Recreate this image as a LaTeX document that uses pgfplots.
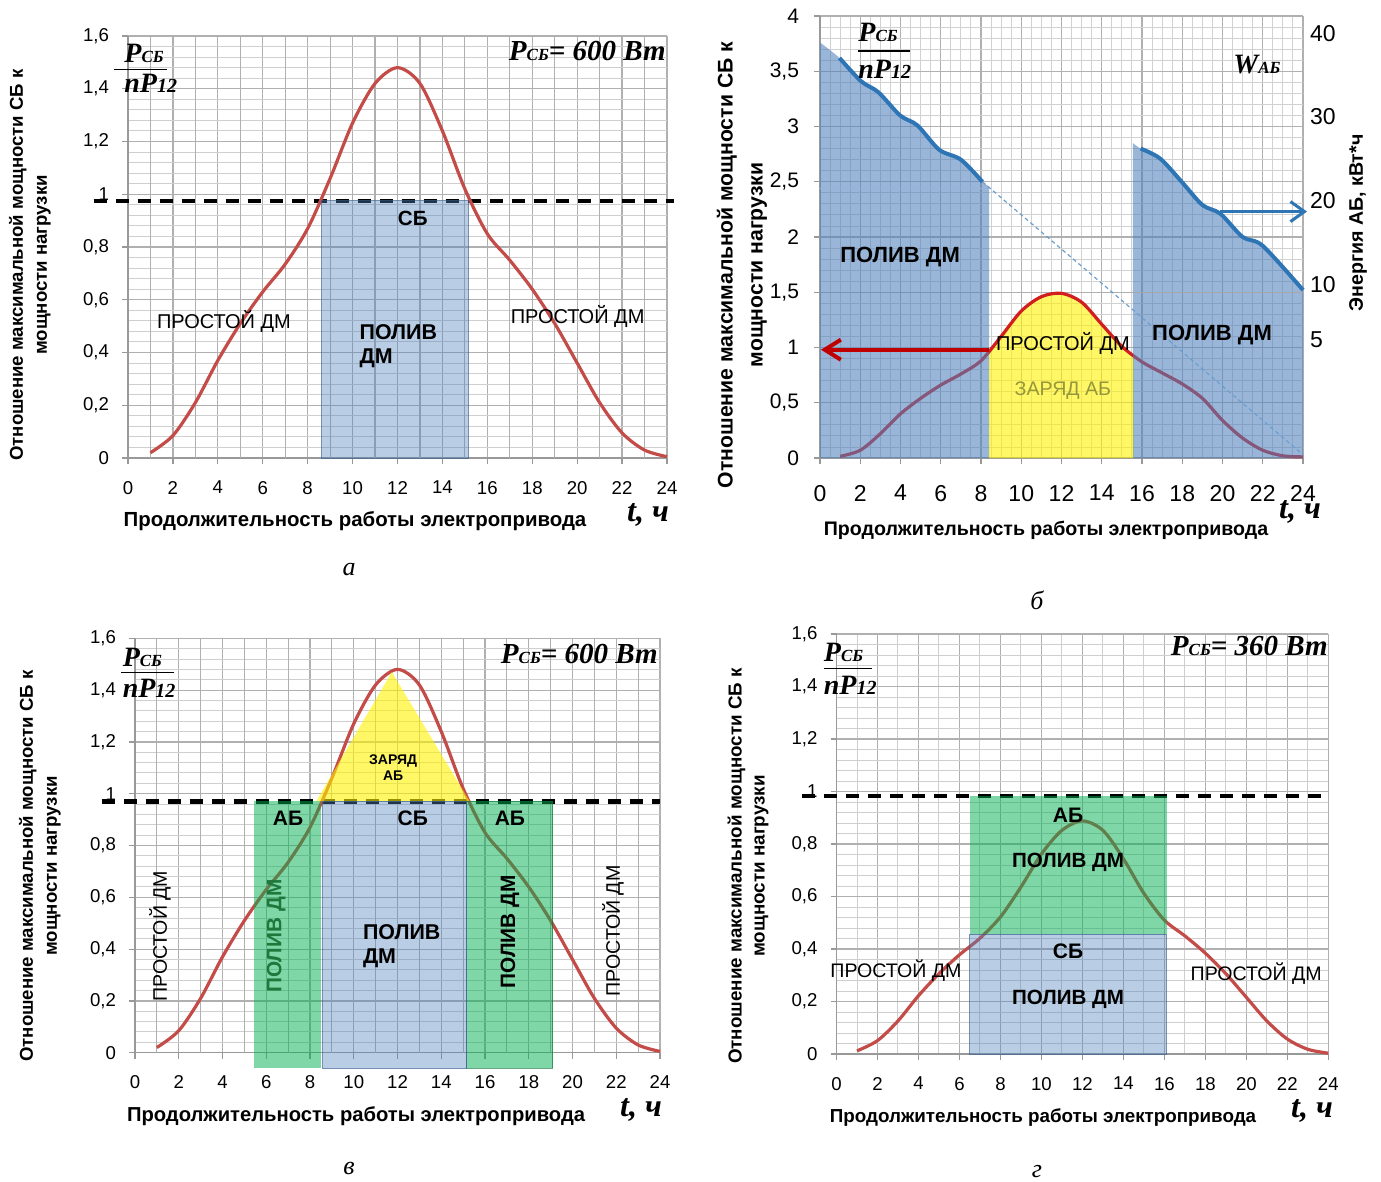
\documentclass[border=0pt]{standalone}
\usepackage{fontspec}
\setmainfont{Liberation Sans}
\newfontfamily\tnr{Liberation Serif}
\usepackage{pgfplots}
\usepackage{pgfplotstable}
\pgfplotsset{compat=1.18}
\usetikzlibrary{arrows.meta}

\definecolor{blueA}{RGB}{79,129,189}
\definecolor{redC}{RGB}{196,76,72}
\definecolor{redB}{RGB}{210,30,30}
\definecolor{lineB}{RGB}{46,117,182}
\definecolor{greenA}{RGB}{0,176,80}
\definecolor{arrR}{RGB}{192,0,0}
\definecolor{olivT}{RGB}{150,150,60}
\definecolor{dgreen}{RGB}{30,120,60}

\newcommand{\fs}[1]{\fontsize{#1}{#1}\selectfont}
\newcommand{\Psb}{{\tnr\bfseries\itshape\fs{14}P\fs{8.5}СБ}}
\newcommand{\nPd}{{\tnr\bfseries\itshape\fs{14}nP\fs{10}12}}

\pgfplotstableread{
t v
1 0.02
2 0.085
3 0.21
4 0.37
5 0.51
6 0.63
7 0.735
8 0.87
9 1.06
10 1.27
11 1.42
12 1.48
13 1.42
14 1.24
15 1.02
16 0.85
17 0.75
18 0.64
19 0.51
20 0.36
21 0.21
22 0.095
23 0.03
24 0.005
}\curveA

\pgfplotstableread{
t v
1 0.015
2 0.07
3 0.22
4 0.40
5 0.54
6 0.66
7 0.76
8 0.88
9 1.10
10 1.33
11 1.46
12 1.49
13 1.41
14 1.21
15 1.01
16 0.87
17 0.77
18 0.67
19 0.54
20 0.34
21 0.18
22 0.07
23 0.02
24 0.01
}\curveB

\pgfplotstableread{
t v
1 0.012
2 0.051
3 0.126
4 0.222
5 0.306
6 0.378
7 0.441
8 0.522
9 0.636
10 0.762
11 0.852
12 0.888
13 0.852
14 0.744
15 0.612
16 0.51
17 0.45
18 0.384
19 0.306
20 0.216
21 0.126
22 0.057
23 0.018
24 0.003
}\curveG

\pgfplotsset{
 base/.style={scale only axis, anchor=south west, xmin=0, xmax=24, xtick={0,2,...,24},
  axis x line*=bottom, axis y line*=left,
  axis line style={draw=gray!80, line width=0.6pt, -},
  tick style={draw=gray!80, line width=0.6pt},
  tick align=outside, major tick length=3pt, minor tick length=0pt,
  grid=both, major grid style={draw=gray!62, line width=0.6pt},
  minor grid style={draw=gray!38, line width=0.5pt},
  /pgf/number format/use comma, /pgf/number format/assume math mode=true,
  tick label style={font=\fs{9.3}}, clip=false,
  xticklabel shift=5pt, yticklabel shift=3pt},
 dsh/.style={black, line width=2.2pt, dash pattern=on 6.5pt off 4.5pt},
 redcurve/.style={redC, line width=1.6pt, smooth},
}

\begin{document}
\begin{tikzpicture}
\useasboundingbox (0,0) rectangle (690.5pt,-591pt);

% ---------------- panel a ----------------
\begin{axis}[base, at={(64pt,-229pt)}, width=269.5pt, height=211pt,
  ymin=0, ymax=1.6, ytick={0,0.2,...,1.6}, minor y tick num=4,
  extra x ticks={1,3,...,23}, extra x tick labels={}, extra x tick style={major tick length=0pt}]
\addplot[dsh] coordinates {(-1.53,0.975) (24.3,0.975)};
\addplot[redcurve] table {\curveA};
\addplot[fill=blueA, fill opacity=0.4, draw=blueA!75!black, draw opacity=0.7, line width=0.5pt] coordinates {(8.62,0) (8.62,0.975) (15.15,0.975) (15.15,0)} -- cycle;
\node[font=\bfseries\fs{10.3}] at (axis cs:12.68,0.91) {СБ};
\node[font=\bfseries\fontsize{10.7}{12}\selectfont, align=left, anchor=west] at (axis cs:10.0,0.425) {ПОЛИВ\\ДМ};
\node[font=\fs{10}] at (axis cs:4.27,0.516) {ПРОСТОЙ ДМ};
\node[font=\fs{10}] at (axis cs:20.02,0.535) {ПРОСТОЙ ДМ};
\end{axis}

% ---------------- panel b ----------------
\begin{axis}[base, at={(410pt,-229pt)}, width=241.5pt, height=221pt,
  ymin=0, ymax=4, ytick={0,0.5,...,4}, minor y tick num=4, minor x tick num=3,
  xticklabel style={font=\fs{11.5}}, yticklabel style={font=\fs{10.5}},
  xticklabel shift=7pt, yticklabel shift=4pt,
  major grid style={draw=gray!62, line width=0.55pt},
  minor grid style={draw=gray!36, line width=0.45pt}]
\addplot[fill=yellow, fill opacity=0.6, draw=none, smooth] coordinates {(8.4,0.96) (9,1.10) (10,1.33) (11,1.46) (12,1.49) (13,1.41) (14,1.21) (15,1.01) (15.6,0.92)} \closedcycle;
\addplot[redB, line width=1.6pt, smooth] table {\curveB};
\addplot[fill=blueA, fill opacity=0.58, draw=none, smooth] coordinates {(0,3.76) (0.97,3.62) (2.04,3.41) (2.9,3.31) (3.98,3.10) (4.84,3.01) (5.92,2.79) (7.0,2.70) (8.07,2.50) (8.4,2.46)} \closedcycle;
\addplot[fill=blueA, fill opacity=0.58, draw=none, smooth] coordinates {(15.55,2.85) (15.93,2.80) (16.9,2.71) (17.97,2.50) (19.0,2.29) (19.9,2.21) (21.0,2.00) (22.0,1.92) (24,1.52)} \closedcycle;
\addplot[blueA!60, line width=0.6pt] coordinates {(0,2.44) (8.4,2.44)};
\addplot[gray!70, line width=0.6pt] coordinates {(15.55,1.5) (24,1.5)};
\addplot[lineB!70, line width=0.6pt, dash pattern=on 2pt off 1.5pt] coordinates {(8.07,2.50) (24,0.03)};
\addplot[lineB, line width=2pt, smooth] coordinates {(0.97,3.62) (2.04,3.41) (2.9,3.31) (3.98,3.10) (4.84,3.01) (5.92,2.79) (7.0,2.70) (8.07,2.50)};
\addplot[lineB, line width=2pt, smooth] coordinates {(15.93,2.80) (16.9,2.71) (17.97,2.50) (19.0,2.29) (19.9,2.21) (21.0,2.00) (22.0,1.92) (24,1.52)};
\addplot[arrR, line width=2pt, -{Straight Barb[length=8pt,width=10pt]}] coordinates {(8.4,0.98) (0.05,0.98)};
\addplot[lineB, line width=1.5pt, -{Straight Barb[length=7pt,width=10pt]}] coordinates {(19.9,2.23) (24.2,2.23)};
\node[font=\bfseries\fs{11}] at (axis cs:3.98,1.82) {ПОЛИВ ДМ};
\node[font=\fs{10}] at (axis cs:12.07,1.04) {ПРОСТОЙ ДМ};
\node[font=\bfseries\fs{11}] at (axis cs:19.48,1.11) {ПОЛИВ ДМ};
\node[font=\fs{9.8}, text=olivT] at (axis cs:12.07,0.61) {ЗАРЯД АБ};
\end{axis}
\begin{axis}[scale only axis, anchor=south west, at={(410pt,-229pt)}, width=241.5pt, height=221pt,
  xmin=0, xmax=24, ymin=0, ymax=4, axis x line=none, axis y line*=right,
  axis line style={draw=none}, major tick length=0pt,
  ytick={3.843,3.089,2.326,1.566,1.074}, yticklabels={40,30,20,10,5},
  yticklabel style={font=\fs{11.5}}]
\end{axis}

% ---------------- panel v ----------------
\begin{axis}[base, at={(67.5pt,-526.35pt)}, width=262.5pt, height=207.2pt,
  ymin=0, ymax=1.6, ytick={0,0.2,...,1.6}, minor y tick num=4,
  extra x ticks={1,3,...,23}, extra x tick labels={}, extra x tick style={major tick length=0pt}]
\addplot[dsh] coordinates {(-1.53,0.97) (24,0.97)};
\addplot[redcurve] table {\curveA};
\addplot[fill=yellow, fill opacity=0.6, draw=none] coordinates {(8.28,0.97) (11.74,1.47) (15.3,0.97)} -- cycle;
\addplot[fill=greenA, fill opacity=0.5, draw=none] coordinates {(5.43,-0.06) (5.43,0.97) (8.48,0.97) (8.48,-0.06)} -- cycle;
\addplot[fill=greenA, fill opacity=0.5, draw=greenA!60!black, draw opacity=0.6, line width=0.4pt] coordinates {(15.16,-0.06) (15.16,0.97) (19.1,0.97) (19.1,-0.06)} -- cycle;
\addplot[fill=blueA, fill opacity=0.4, draw=blueA!75!black, draw opacity=0.7, line width=0.5pt] coordinates {(8.58,-0.06) (8.58,0.97) (15.16,0.97) (15.16,-0.06)} -- cycle;
\node[font=\bfseries\fontsize{7}{8}\selectfont, align=center] at (axis cs:11.8,1.10) {ЗАРЯД\\АБ};
\node[font=\bfseries\fs{10.5}] at (axis cs:7.0,0.906) {АБ};
\node[font=\bfseries\fs{10.5}] at (axis cs:12.7,0.906) {СБ};
\node[font=\bfseries\fs{10.5}] at (axis cs:17.14,0.906) {АБ};
\node[font=\bfseries\fontsize{10.7}{12}\selectfont, align=left, anchor=west] at (axis cs:10.1,0.41) {ПОЛИВ\\ДМ};
\node[font=\bfseries\fs{10.4}, text=dgreen, rotate=90] at (axis cs:6.45,0.45) {ПОЛИВ ДМ};
\node[font=\bfseries\fs{10.4}, rotate=90] at (axis cs:17.14,0.466) {ПОЛИВ ДМ};
\node[font=\fs{9.8}, rotate=90] at (axis cs:1.14,0.45) {ПРОСТОЙ ДМ};
\node[font=\fs{9.8}, rotate=90] at (axis cs:21.85,0.47) {ПРОСТОЙ ДМ};
\end{axis}

% ---------------- panel g ----------------
\begin{axis}[base, at={(418.25pt,-527pt)}, width=245.9pt, height=210pt,
  ymin=0, ymax=1.6, ytick={0,0.2,...,1.6}, minor y tick num=4, minor x tick num=1]
\addplot[dsh] coordinates {(-1.69,0.983) (23.9,0.983)};
\addplot[redcurve] table {\curveG};
\addplot[fill=greenA, fill opacity=0.5, draw=none] coordinates {(6.49,0.457) (6.49,0.983) (16.13,0.983) (16.13,0.457)} -- cycle;
\addplot[fill=blueA, fill opacity=0.4, draw=blueA!75!black, draw opacity=0.7, line width=0.5pt] coordinates {(6.49,0) (6.49,0.457) (16.1,0.457) (16.1,0)} -- cycle;
\node[font=\bfseries\fs{10.5}] at (axis cs:11.3,0.91) {АБ};
\node[font=\bfseries\fs{10.3}] at (axis cs:11.3,0.73) {ПОЛИВ ДМ};
\node[font=\bfseries\fs{10.5}] at (axis cs:11.3,0.39) {СБ};
\node[font=\bfseries\fs{10.3}] at (axis cs:11.3,0.21) {ПОЛИВ ДМ};
\node[font=\fs{9.8}] at (axis cs:2.9,0.316) {ПРОСТОЙ ДМ};
\node[font=\fs{9.8}] at (axis cs:20.48,0.305) {ПРОСТОЙ ДМ};
\end{axis}

% ---------------- texts (pixel coordinates) ----------------
\begin{scope}[x=0.5pt,y=-0.5pt]
% a
\node[rotate=90, align=center, font=\bfseries\fontsize{9.3}{12}\selectfont] at (30,265) {Отношение максимальной мощности СБ к\\мощности нагрузки};
\node[font=\bfseries\fs{10.2}] at (355,521) {Продолжительность работы электропривода};
\node[font=\tnr\bfseries\itshape\fs{16}] at (648,515) {t, ч};
\node[font=\tnr\itshape\fs{13}] at (349,570) {а};
\node[anchor=base west, inner sep=0] at (124,63) {\Psb};
\draw[black, line width=0.6pt] (113.5,69.5) -- (167,69.5);
\node[anchor=base west, inner sep=0] at (124,93) {\nPd};
\node[anchor=base east, inner sep=0] at (666,61) {{\tnr\bfseries\itshape\fs{14.5}P\fs{8.5}СБ\fs{14.5}= 600 Вт}};
% b
\node[rotate=90, align=center, font=\bfseries\fontsize{10.6}{15}\selectfont] at (742,265) {Отношение максимальной мощности СБ к\\мощности нагрузки};
\node[rotate=90, font=\bfseries\fs{9.8}] at (1358,223) {Энергия АБ, кВт*ч};
\node[font=\bfseries\fs{9.8}] at (1046,530) {Продолжительность работы электропривода};
\node[font=\tnr\bfseries\itshape\fs{16}] at (1300,512) {t, ч};
\node[font=\tnr\itshape\fs{13}] at (1037,600) {б};
\node[anchor=base west, inner sep=0] at (858,41.7) {\Psb};
\draw[black, line width=0.6pt] (858,51) -- (910,51);
\node[anchor=base west, inner sep=0] at (858,78.3) {\nPd};
\node[anchor=base west, inner sep=0] at (1233,73.3) {{\tnr\bfseries\itshape\fs{14}W\fs{8.5}АБ}};
% v
\node[rotate=90, align=center, font=\bfseries\fontsize{9.3}{12}\selectfont] at (40,866) {Отношение максимальной мощности СБ к\\мощности нагрузки};
\node[font=\bfseries\fs{10.1}] at (356,1116) {Продолжительность работы электропривода};
\node[font=\tnr\bfseries\itshape\fs{16}] at (641,1110) {t, ч};
\node[font=\tnr\itshape\fs{13}] at (349,1168) {в};
\node[anchor=base west, inner sep=0] at (122.4,666.7) {\Psb};
\draw[black, line width=0.6pt] (121,672.3) -- (173.6,672.3);
\node[anchor=base west, inner sep=0] at (122.4,697) {\nPd};
\node[anchor=base east, inner sep=0] at (658,663) {{\tnr\bfseries\itshape\fs{14.5}P\fs{8.5}СБ\fs{14.5}= 600 Вт}};
% g
\node[rotate=90, align=center, font=\bfseries\fontsize{9.4}{11.5}\selectfont] at (748,866) {Отношение максимальной мощности СБ к\\мощности нагрузки};
\node[font=\bfseries\fs{9.4}] at (1043,1118) {Продолжительность работы электропривода};
\node[font=\tnr\bfseries\itshape\fs{16}] at (1312,1111) {t, ч};
\node[font=\tnr\itshape\fs{13}] at (1037,1172) {г};
\node[anchor=base west, inner sep=0] at (823.5,661.7) {\Psb};
\draw[black, line width=0.6pt] (823.5,668.3) -- (872.4,668.3);
\node[anchor=base west, inner sep=0] at (823.5,694) {\nPd};
\node[anchor=base east, inner sep=0] at (1328,655) {{\tnr\bfseries\itshape\fs{14.5}P\fs{8.5}СБ\fs{14.5}= 360 Вт}};
\end{scope}
\end{tikzpicture}
\end{document}
